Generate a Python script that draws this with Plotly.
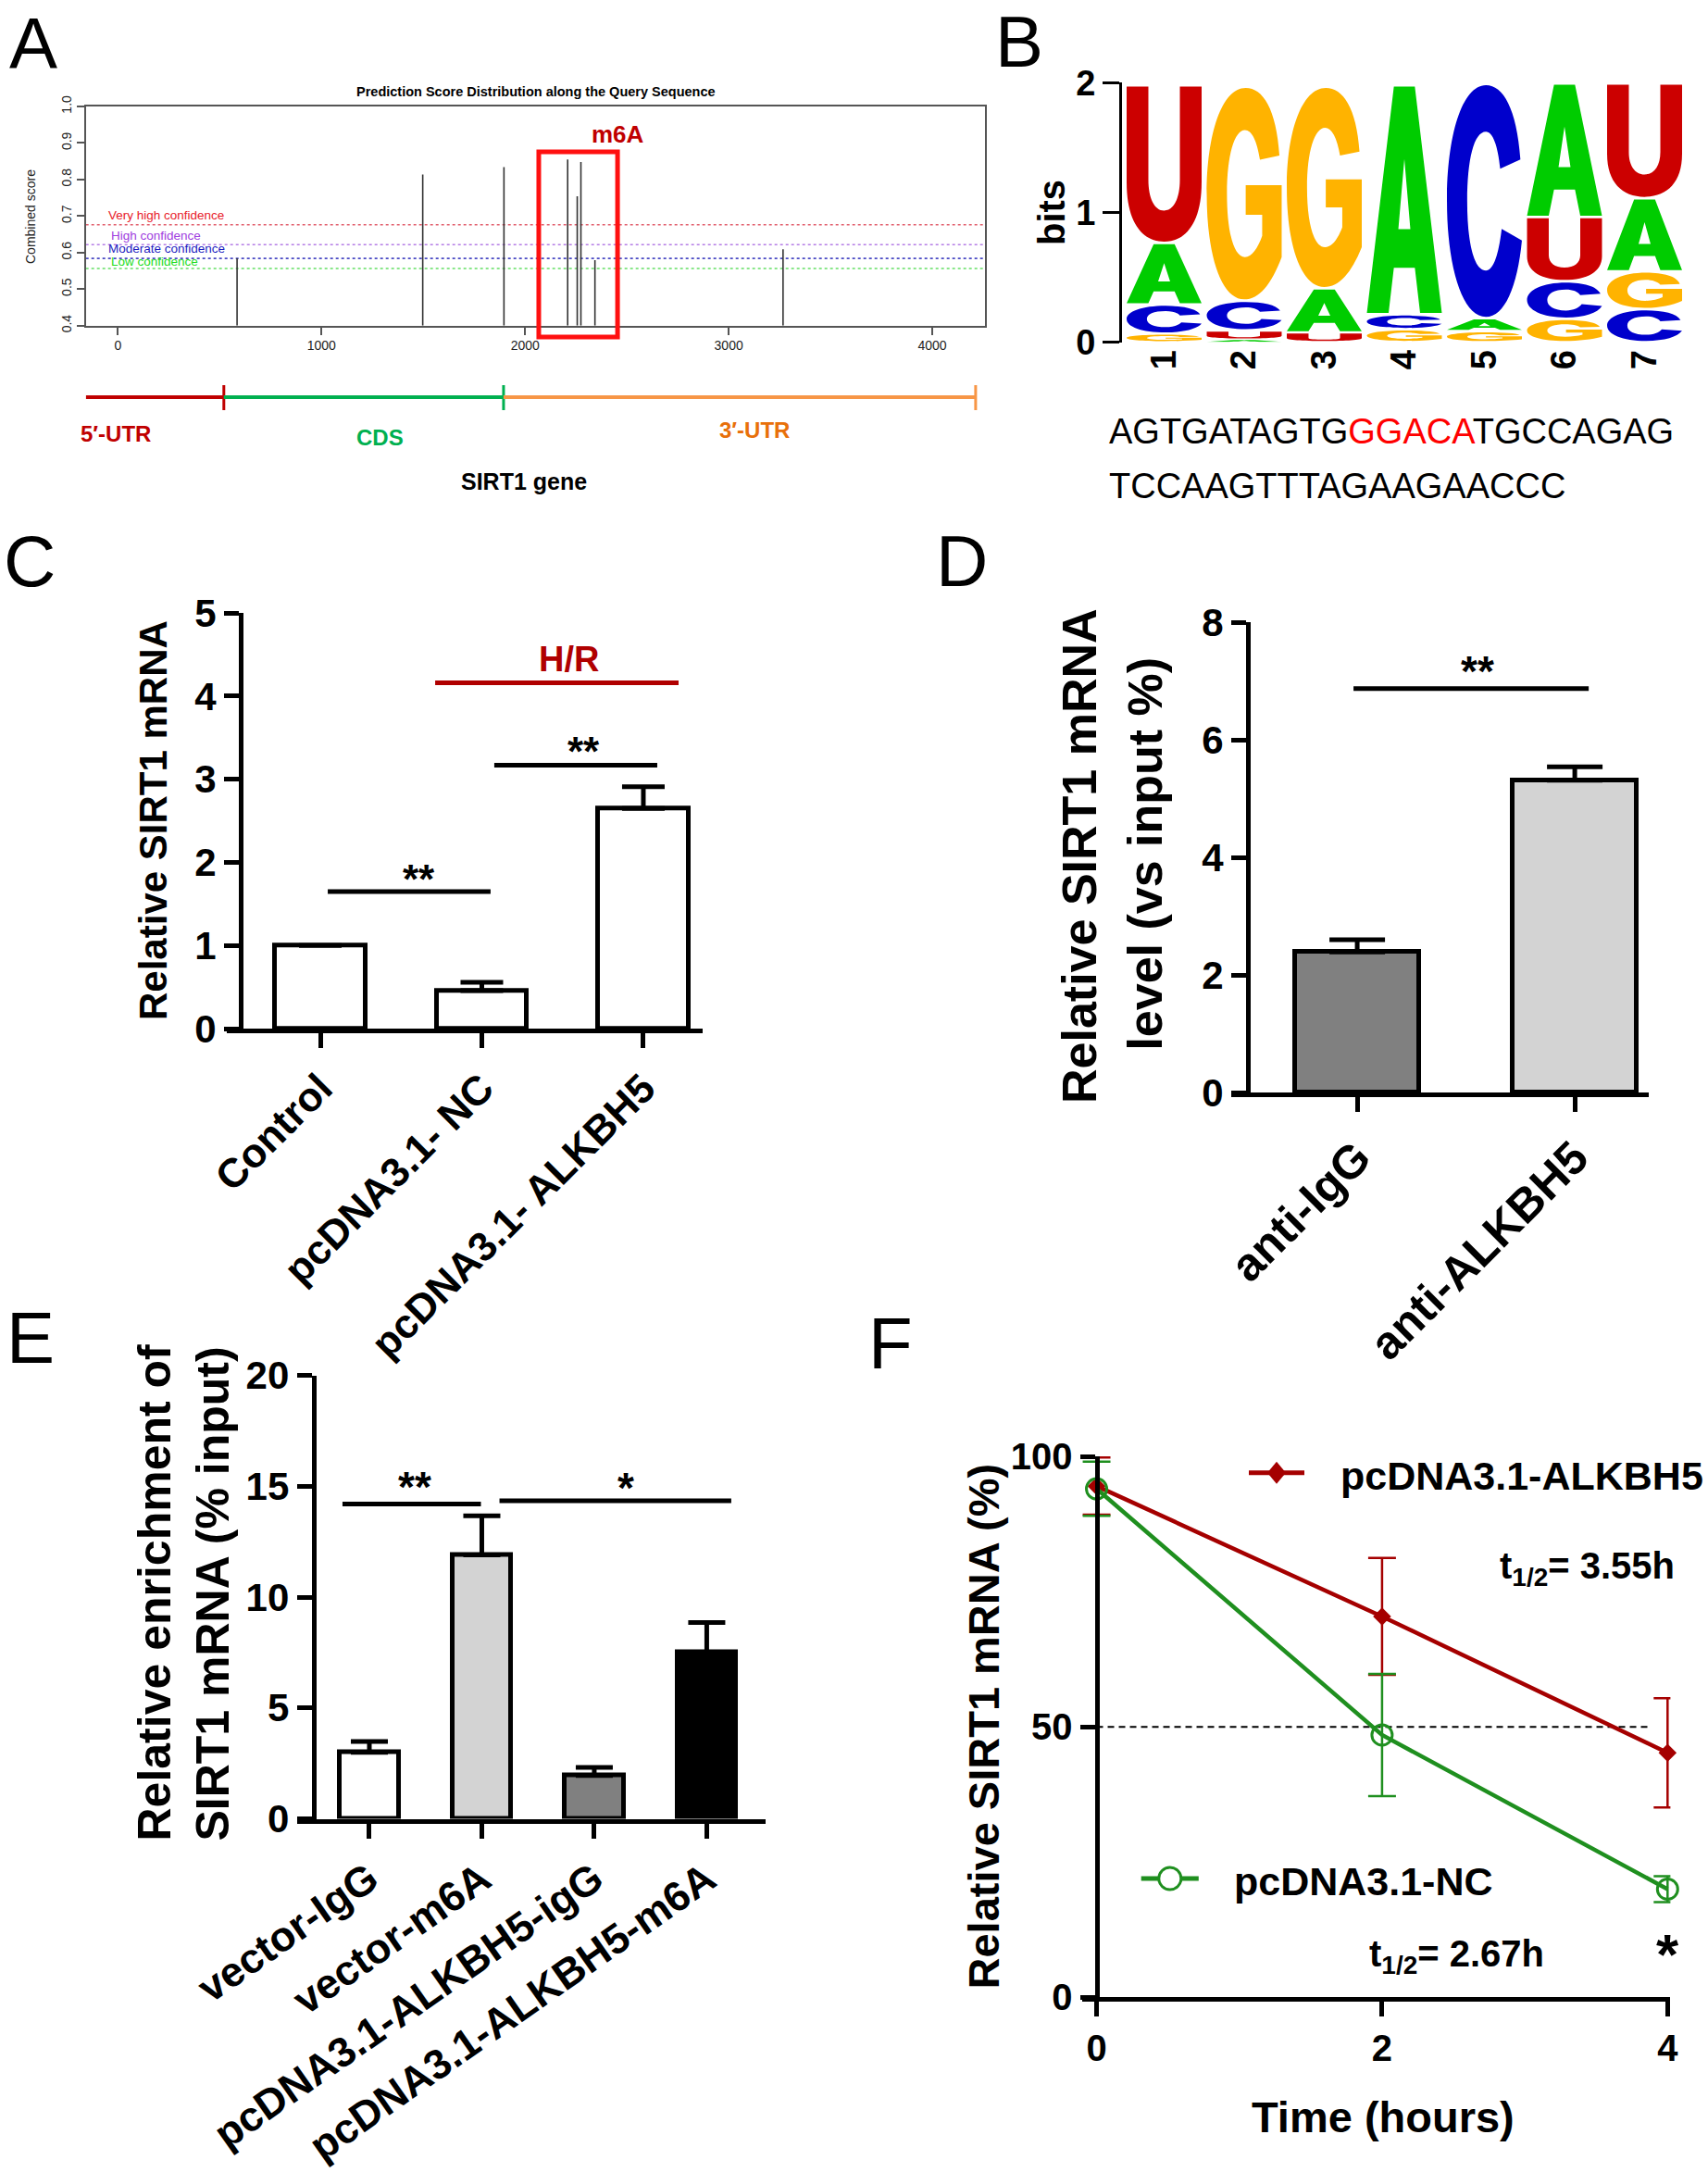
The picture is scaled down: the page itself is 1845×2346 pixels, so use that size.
import plotly.graph_objects as go

W, H = 1845, 2346
FONT = "Liberation Sans, Arial, Helvetica, sans-serif"


def px(x):
    return x / W


def py(y):
    return 1 - y / H


# ---------------- Panel A data ----------------
site_pos = [585, 1497, 1896, 2209, 2256, 2274, 2343, 3267]
site_score = [0.584, 0.814, 0.834, 0.855, 0.754, 0.848, 0.579, 0.609]
conf_names = ["Very high confidence", "High confidence", "Moderate confidence", "Low confidence"]
conf_levels = [0.676, 0.6215, 0.584, 0.5564]
conf_line_colors = ["#e2606e", "#b57ee6", "#4a4ac4", "#66e066"]
conf_text_colors = ["#e8202a", "#a040e0", "#1c1cc0", "#22dd22"]
a_xrange = [-158, 4259]
a_yrange = [0.4, 1.0]
a_xticks = [0, 1000, 2000, 3000, 4000]
a_yticks = [0.4, 0.5, 0.6, 0.7, 0.8, 0.9, 1.0]
gene_regions = ["5′-UTR", "CDS", "3′-UTR"]
gene_bounds = [-158, 520, 1894, 4213]
gene_line_colors = ["#c00000", "#00b050", "#f79646"]
gene_text_colors = ["#c00000", "#00b050", "#e8700a"]
m6a_box = [2067, 2454]

# ---------------- Panel B data (sequence logo, bits) ----------------
logo_pos = [1, 2, 3, 4, 5, 6, 7]
bits_A = [0.475, 0.02, 0.34, 1.765, 0.10, 1.03, 0.565]
bits_C = [0.225, 0.23, 0.0, 0.115, 1.805, 0.29, 0.255]
bits_G = [0.065, 1.65, 1.555, 0.10, 0.085, 0.18, 0.29]
bits_U = [1.215, 0.07, 0.075, 0.0, 0.0, 0.495, 0.885]
base_colors = {"A": "#00cc00", "C": "#0000cc", "G": "#ffb300", "U": "#cc0000"}
seq_line1 = ["AGTGATAGTG", "GGACA", "TGCCAGAG"]
seq_line2 = "TCCAAGTTTAGAAGAACCC"

# ---------------- Panel C data ----------------
c_groups = ["Control", "pcDNA3.1- NC", "pcDNA3.1- ALKBH5"]
c_mean = [1.0, 0.457, 2.65]
c_sd = [0.0, 0.10, 0.26]
c_yticks = [0, 1, 2, 3, 4, 5]

# ---------------- Panel D data ----------------
d_groups = ["anti-IgG", "anti-ALKBH5"]
d_mean = [2.39, 5.31]
d_sd = [0.21, 0.23]
d_colors = ["#808080", "#d3d3d3"]
d_yticks = [0, 2, 4, 6, 8]

# ---------------- Panel E data ----------------
e_groups = ["vector-IgG", "vector-m6A", "pcDNA3.1-ALKBH5-igG", "pcDNA3.1-ALKBH5-m6A"]
e_mean = [3.0, 11.9, 1.95, 7.51]
e_sd = [0.49, 1.76, 0.37, 1.34]
e_colors = ["#ffffff", "#d3d3d3", "#808080", "#000000"]
e_yticks = [0, 5, 10, 15, 20]

# ---------------- Panel F data ----------------
f_time = [0, 2, 4]
f_alkbh5 = [94.5, 70.4, 45.2]
f_alkbh5_sd = [5.3, 10.8, 10.1]
f_nc = [94.0, 48.5, 20.0]
f_nc_sd = [5.0, 11.3, 2.4]
f_half = 50
f_half_end = 3.88
f_xticks = [0, 2, 4]
f_yticks = [0, 50, 100]
RED = "#a50000"
GREEN = "#1f8f1f"

fig = go.Figure()
anns = []
shapes = []


def ann(x, y, text, size, color="black", bold=False, angle=0, xanchor="center",
        yanchor="middle", xref="paper", yref="paper", family=FONT):
    anns.append(dict(x=x, y=y, xref=xref, yref=yref, text=text, showarrow=False,
                     textangle=angle, xanchor=xanchor, yanchor=yanchor,
                     font=dict(family=family, size=size, color=color,
                               weight="bold" if bold else "normal")))


# ======== Panel A ========
seg_x, seg_y = [], []
for p, s in zip(site_pos, site_score):
    seg_x += [p, p, None]
    seg_y += [a_yrange[0], s, None]
for lvl, col in zip(conf_levels, conf_line_colors):
    fig.add_trace(go.Scatter(x=a_xrange, y=[lvl, lvl], mode="lines",
                             line=dict(color=col, width=1.6, dash="dot"),
                             xaxis="x", yaxis="y", showlegend=False, hoverinfo="skip"))
fig.add_trace(go.Scatter(x=seg_x, y=seg_y, mode="lines", line=dict(color="#333333", width=1.6),
                         xaxis="x", yaxis="y", showlegend=False, hoverinfo="skip"))

ann(px(579), py(99), "Prediction Score Distribution along the Query Sequence", 14.5, bold=True)
ann(px(33), py(234), "Combined score", 14, color="#222", angle=-90)
for name, col, xs, ys in zip(conf_names, conf_text_colors, [115, 118.3, 115, 118.3],
                             [232.7, 254.3, 268.3, 282.7]):
    ann(px(xs), py(ys), name, 13.5, color=col, xanchor="left")
shapes.append(dict(type="rect", xref="x", yref="paper", x0=m6a_box[0], x1=m6a_box[1],
                   y0=py(364), y1=py(164), line=dict(color="#ff1010", width=5)))
ann(px(667), py(145), "m6A", 26, color="#c00000", bold=True)

for i in range(3):
    shapes.append(dict(type="line", xref="x", yref="paper", x0=gene_bounds[i], x1=gene_bounds[i + 1],
                       y0=py(429), y1=py(429), line=dict(color=gene_line_colors[i], width=4)))
    shapes.append(dict(type="line", xref="x", yref="paper", x0=gene_bounds[i + 1], x1=gene_bounds[i + 1],
                       y0=py(443), y1=py(416), line=dict(color=gene_line_colors[i], width=3)))
for name, col, xs, ys in zip(gene_regions, gene_text_colors, [125, 410.5, 815], [468.5, 472, 464]):
    ann(px(xs), py(ys), name, 24, color=col, bold=True)
ann(px(566), py(520), "SIRT1 gene", 25, bold=True)

# ======== Panel B: sequence logo ========
GLYPHS = {
    "U": [("M", 0, 1), ("L", 0, 0.38), ("C", 0, 0.13, 0.2, 0, 0.5, 0), ("C", 0.8, 0, 1, 0.13, 1, 0.38),
          ("L", 1, 1), ("L", 0.71, 1), ("L", 0.71, 0.4), ("C", 0.71, 0.28, 0.63, 0.2, 0.5, 0.2),
          ("C", 0.37, 0.2, 0.29, 0.28, 0.29, 0.4), ("L", 0.29, 1), ("Z",)],
    "C": [("M", 0.98, 0.68), ("C", 0.93, 0.9, 0.75, 1, 0.52, 1), ("C", 0.2, 1, 0, 0.78, 0, 0.5),
          ("C", 0, 0.22, 0.2, 0, 0.52, 0), ("C", 0.77, 0, 0.94, 0.13, 1, 0.33), ("L", 0.73, 0.38),
          ("C", 0.69, 0.27, 0.62, 0.2, 0.52, 0.2), ("C", 0.36, 0.2, 0.27, 0.32, 0.27, 0.5),
          ("C", 0.27, 0.68, 0.36, 0.8, 0.52, 0.8), ("C", 0.61, 0.8, 0.68, 0.74, 0.71, 0.64), ("Z",)],
    "G": [("M", 0.97, 0.68), ("C", 0.93, 0.9, 0.75, 1, 0.52, 1), ("C", 0.2, 1, 0, 0.78, 0, 0.5),
          ("C", 0, 0.2, 0.2, 0, 0.5, 0), ("C", 0.7, 0, 0.86, 0.07, 1, 0.2), ("L", 1, 0.54),
          ("L", 0.52, 0.54), ("L", 0.52, 0.4), ("L", 0.74, 0.4), ("L", 0.74, 0.3),
          ("C", 0.68, 0.24, 0.6, 0.2, 0.51, 0.2), ("C", 0.36, 0.2, 0.27, 0.32, 0.27, 0.5),
          ("C", 0.27, 0.68, 0.37, 0.8, 0.51, 0.8), ("C", 0.6, 0.8, 0.67, 0.75, 0.71, 0.66), ("Z",)],
    "A": [("M", 0, 0), ("L", 0.36, 1), ("L", 0.64, 1), ("L", 1, 0), ("L", 0.71, 0), ("L", 0.64, 0.2),
          ("L", 0.36, 0.2), ("L", 0.29, 0), ("Z",), ("M", 0.42, 0.37), ("L", 0.58, 0.37),
          ("L", 0.5, 0.68), ("Z",)],
}


def glyph_path(letter, xc, hw, y0, y1):
    out = []
    for c in GLYPHS[letter]:
        op, nums = c[0], c[1:]
        if op == "Z":
            out.append("Z")
            continue
        pts = []
        for i in range(0, len(nums), 2):
            u, v = nums[i], nums[i + 1]
            pts.append(f"{xc - hw + 2 * hw * u:.4f},{y0 + (y1 - y0) * v:.4f}")
        out.append(op + " ".join(pts))
    return " ".join(out)


bits = {"A": bits_A, "C": bits_C, "G": bits_G, "U": bits_U}
for i, pos in enumerate(logo_pos):
    col = sorted([(bits[b][i], b) for b in "ACGU" if bits[b][i] > 0])
    base = 0.0
    for h, b in col:
        pad = min(0.01, 0.12 * h)
        shapes.append(dict(type="path", xref="x2", yref="y2",
                           path=glyph_path(b, pos, 0.468, base + pad, base + h - pad),
                           fillcolor=base_colors[b], line=dict(width=0), fillrule="evenodd",
                           layer="above"))
        base += h
# trace carrying the stack totals (invisible) to activate the logo axes
fig.add_trace(go.Scatter(x=logo_pos, y=[bits_A[i] + bits_C[i] + bits_G[i] + bits_U[i] for i in range(7)],
                         mode="markers", marker=dict(opacity=0, size=1),
                         xaxis="x2", yaxis="y2", showlegend=False, hoverinfo="skip"))
ann(px(1136), py(230), "bits", 40, bold=True, angle=-90)
ann(px(1196), py(466), seq_line1[0] + f"<span style='color:#ff0000'>{seq_line1[1]}</span>" + seq_line1[2],
    38, xanchor="left")
ann(px(1196), py(525), seq_line2, 38, xanchor="left")

# ======== Panel C ========
fig.add_trace(go.Bar(x=[0, 1, 2], y=c_mean, width=0.56, marker=dict(color="white", line=dict(color="black", width=5)),
                     error_y=dict(type="data", array=c_sd, arrayminus=[0, 0, 0], symmetric=False,
                                  color="black", thickness=5, width=23),
                     xaxis="x3", yaxis="y3", showlegend=False))
c_sig = [(0.046, 1.054, 1.65, "black"), (1.077, 2.086, 3.17, "black"), (0.711, 2.218, 4.16, "#b00000")]
for x0, x1, yv, col in c_sig:
    fig.add_trace(go.Scatter(x=[x0, x1], y=[yv, yv], mode="lines", line=dict(color=col, width=5),
                             xaxis="x3", yaxis="y3", showlegend=False, hoverinfo="skip"))
ann(0.613, 1.80, "**", 44, bold=True, xref="x3", yref="y3")
ann(1.631, 3.34, "**", 44, bold=True, xref="x3", yref="y3")
ann(1.536, 4.44, "H/R", 38, color="#b00000", bold=True, xref="x3", yref="y3")
ann(px(165), py(886), "Relative SIRT1 mRNA", 42, bold=True, angle=-90)

# ======== Panel D ========
fig.add_trace(go.Bar(x=[0, 1], y=d_mean, width=0.57, marker=dict(color=d_colors, line=dict(color="black", width=5)),
                     error_y=dict(type="data", array=d_sd, arrayminus=[0, 0], symmetric=False,
                                  color="black", thickness=5, width=30),
                     xaxis="x4", yaxis="y4", showlegend=False))
fig.add_trace(go.Scatter(x=[-0.017, 1.064], y=[6.87, 6.87], mode="lines", line=dict(color="black", width=5),
                         xaxis="x4", yaxis="y4", showlegend=False, hoverinfo="skip"))
ann(0.553, 7.16, "**", 46, bold=True, xref="x4", yref="y4")
ann(px(1166), py(925), "Relative SIRT1 mRNA", 52, bold=True, angle=-90)
ann(px(1236.6), py(922), "level (vs input %)", 52, bold=True, angle=-90)

# ======== Panel E ========
fig.add_trace(go.Bar(x=[0, 1, 2, 3], y=e_mean, width=0.52, marker=dict(color=e_colors, line=dict(color="black", width=5)),
                     error_y=dict(type="data", array=e_sd, arrayminus=[0, 0, 0, 0], symmetric=False,
                                  color="black", thickness=5, width=20),
                     xaxis="x5", yaxis="y5", showlegend=False))
e_sig = [(-0.239, 0.992, 14.2), (1.157, 3.218, 14.34)]
for x0, x1, yv in e_sig:
    fig.add_trace(go.Scatter(x=[x0, x1], y=[yv, yv], mode="lines", line=dict(color="black", width=5),
                             xaxis="x5", yaxis="y5", showlegend=False, hoverinfo="skip"))
ann(0.40, 14.98, "**", 46, bold=True, xref="x5", yref="y5")
ann(2.277, 14.93, "*", 46, bold=True, xref="x5", yref="y5")
ann(px(166.5), py(1720), "Relative enrichment of", 50, bold=True, angle=-90)
ann(px(229.6), py(1722), "SIRT1 mRNA (% input)", 50, bold=True, angle=-90)

# ======== Panel F ========
fig.add_trace(go.Scatter(x=[0, f_half_end], y=[f_half, f_half], mode="lines",
                         line=dict(color="black", width=2, dash="7px,5px"),
                         xaxis="x6", yaxis="y6", showlegend=False, hoverinfo="skip"))
fig.add_trace(go.Scatter(x=f_time, y=f_alkbh5, mode="lines+markers", name="pcDNA3.1-ALKBH5",
                         line=dict(color=RED, width=4.5),
                         marker=dict(symbol="diamond", size=15, color=RED),
                         error_y=dict(type="data", array=f_alkbh5_sd, color=RED, thickness=2.5, width=15),
                         cliponaxis=False, xaxis="x6", yaxis="y6", showlegend=False))
fig.add_trace(go.Scatter(x=f_time, y=f_nc, mode="lines+markers", name="pcDNA3.1-NC",
                         line=dict(color=GREEN, width=4.5),
                         marker=dict(symbol="circle-open", size=22, color=GREEN, line=dict(width=3, color=GREEN)),
                         error_y=dict(type="data", array=f_nc_sd, color=GREEN, thickness=2.5, width=15),
                         cliponaxis=False, xaxis="x6", yaxis="y6", showlegend=False))
# legend keys
shapes.append(dict(type="line", xref="paper", yref="paper", x0=px(1349), x1=px(1409), y0=py(1590.7),
                   y1=py(1590.7), line=dict(color=RED, width=5)))
cx, cy = 1379, 1590.7
shapes.append(dict(type="path", xref="paper", yref="paper",
                   path=f"M{px(cx - 10)},{py(cy)} L{px(cx)},{py(cy - 12)} L{px(cx + 10)},{py(cy)} L{px(cx)},{py(cy + 12)} Z",
                   fillcolor=RED, line=dict(width=0)))
shapes.append(dict(type="line", xref="paper", yref="paper", x0=px(1232.7), x1=px(1294.8), y0=py(2029),
                   y1=py(2029), line=dict(color=GREEN, width=5)))
shapes.append(dict(type="circle", xref="paper", yref="paper", x0=px(1263.8 - 12), x1=px(1263.8 + 12),
                   y0=py(2029 + 12), y1=py(2029 - 12), fillcolor="white", line=dict(color=GREEN, width=3)))
ann(px(1445.5), py(1593.6), "pcDNA3.1-ALKBH5", 43, bold=True, xanchor="left")
ann(px(1331), py(2032), "pcDNA3.1-NC", 43, bold=True, xanchor="left")
ann(px(1714), py(1694), "t<sub>1/2</sub>= 3.55h", 40, bold=True)
ann(px(1573.5), py(2113), "t<sub>1/2</sub>= 2.67h", 40, bold=True)
ann(px(1801), py(2110), "*", 62, bold=True)
ann(px(1061.5), py(1865), "Relative SIRT1 mRNA (%)", 47, bold=True, angle=-90)
ann(px(1493.7), py(2286), "Time (hours)", 47, bold=True)

# Panel letters
for letter, xs, ys in [("A", 35.5, 46.5), ("B", 1101, 44.8), ("C", 32, 606), ("D", 1039, 606),
                       ("E", 33, 1444.5), ("F", 962, 1451)]:
    ann(px(xs), py(ys), letter, 78)


# ======== Axes ========
def prism_x(domain, rng, tickvals, ticktext, size, angle, anchor):
    return dict(domain=domain, range=rng, anchor=anchor, showline=True, linecolor="black", linewidth=5,
                ticks="outside", ticklen=16, tickwidth=5, tickcolor="black", tickvals=tickvals,
                ticktext=ticktext, tickangle=angle, showgrid=False, zeroline=False, automargin=False,
                tickfont=dict(family=FONT, size=size, color="black", weight="bold"))


def prism_y(domain, rng, tickvals, size, position, ticktext=None, standoff=None):
    d = dict(domain=domain, range=rng, anchor="free", position=position, showline=True, linecolor="black",
             linewidth=5, ticks="outside", ticklen=16, tickwidth=5, tickcolor="black", tickvals=tickvals,
             showgrid=False, zeroline=False, automargin=False,
             tickfont=dict(family=FONT, size=size, color="black", weight="bold"))
    if ticktext is not None:
        d["ticktext"] = ticktext
    if standoff is not None:
        d["ticklabelstandoff"] = standoff
    return d


layout = dict(
    template="none",
    width=W, height=H, margin=dict(l=0, r=0, t=0, b=0, pad=0, autoexpand=False),
    paper_bgcolor="white", plot_bgcolor="rgba(0,0,0,0)",
    font=dict(family=FONT), showlegend=False, bargap=0,
    xaxis=dict(domain=[px(92.7), px(1064)], range=a_xrange, anchor="y", showline=True, mirror=True,
               linecolor="#555", linewidth=1.6, ticks="outside", ticklen=8, tickwidth=1.5, tickcolor="#555",
               tickvals=a_xticks, showgrid=False, zeroline=False, automargin=False,
               tickfont=dict(family=FONT, size=14, color="#222")),
    yaxis=dict(domain=[py(351.7), py(115)], range=a_yrange, anchor="x", showline=True, mirror=True,
               linecolor="#555", linewidth=1.6, ticks="outside", ticklen=8, tickwidth=1.5, tickcolor="#555",
               tickvals=a_yticks, ticktext=[f"{v:.1f}" for v in a_yticks], tickangle=-90, automargin=False,
               showgrid=False, zeroline=False, tickfont=dict(family=FONT, size=14, color="#222")),
    xaxis2=dict(domain=[px(1212), px(1822)], range=[0.474, 7.526], anchor="y2", showline=False,
                ticks="", tickvals=logo_pos, ticktext=[str(p) for p in logo_pos], tickangle=-90,
                showgrid=False, zeroline=False, automargin=False,
                tickfont=dict(family=FONT, size=38, color="black", weight="bold")),
    yaxis2=dict(domain=[py(369.6), py(89.3)], range=[0, 2], anchor="x2", showline=True, linecolor="black",
                linewidth=3, ticks="outside", ticklen=18, tickwidth=3, tickcolor="black", tickvals=[0, 1, 2],
                showgrid=False, zeroline=False, automargin=False,
                tickfont=dict(family=FONT, size=38, color="black", weight="bold")),
    xaxis3=prism_x([px(245), px(759)], [-0.579, 2.367], [0, 1, 2], c_groups, 44, -45, "y3"),
    yaxis3=prism_y([py(1111), py(662.2)], [0, 5], c_yticks, 42, px(260)),
    xaxis4=prism_x([px(1330), px(1781)], [-0.579, 1.34], [0, 1], d_groups, 50, -45, "y4"),
    yaxis4=prism_y([py(1180), py(672)], [0, 8], d_yticks, 42, px(1348)),
    xaxis5=prism_x([px(321), px(826.6)], [-0.642, 3.52], [0, 1, 2, 3], e_groups, 45, -35, "y5"),
    yaxis5=prism_y([py(1964.5), py(1485.5)], [0, 20], e_yticks, 42, px(338.7)),
    xaxis6=prism_x([px(1169.1), px(1804.4)], [-0.1, 4.02], f_xticks, [str(t) for t in f_xticks], 40, 0, "y6"),
    yaxis6=prism_y([py(2157.4), py(1573)], [0, 100], f_yticks, 40, px(1184.5)),
    annotations=anns,
    shapes=shapes,
)
fig.update_layout(**layout)
fig.write_html("out.html")
